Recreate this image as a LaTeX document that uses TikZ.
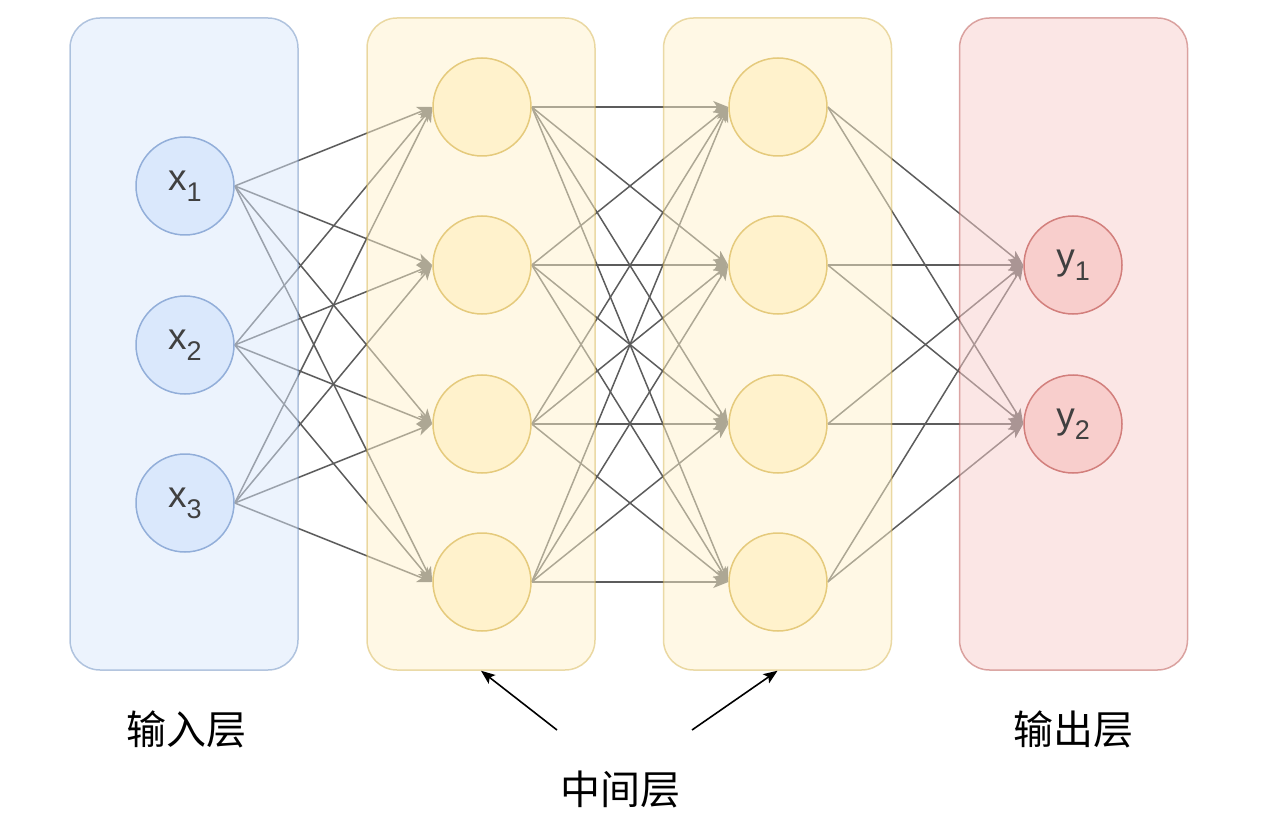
\documentclass[tikz,border=0pt]{standalone}
\usepackage{fontspec}
\setmainfont{Liberation Sans}
\newfontfamily\cjk{Noto Sans CJK SC}
\usetikzlibrary{arrows.meta}
\pgfdeclarelayer{edgelayer}
\pgfdeclarelayer{boxlayer}
\pgfsetlayers{edgelayer,boxlayer,main}
\definecolor{bluefill}{HTML}{DAE8FC}
\definecolor{bluedraw}{HTML}{6C8EBF}
\definecolor{yelfill}{HTML}{FFF2CC}
\definecolor{yeldraw}{HTML}{D6B656}
\definecolor{redfill}{HTML}{F8CECC}
\definecolor{reddraw}{HTML}{B85450}
\definecolor{circblue}{HTML}{92AED9}
\definecolor{circyel}{HTML}{E5CA7C}
\definecolor{circred}{HTML}{D27F7C}
\definecolor{edgegray}{HTML}{5C5C5C}
\definecolor{labgray}{HTML}{404040}
\newcommand{\nlab}[2]{{\fontsize{37}{37}\selectfont #1}\raisebox{-11pt}{\fontsize{27}{27}\selectfont #2}}
\begin{document}
\begin{tikzpicture}[x=1pt,y=-1pt,
  neuron/.style={circle,minimum size=98pt,inner sep=0pt,line width=1.5pt,text=labgray},
  inp/.style={neuron,fill=bluefill,draw=circblue},
  hid/.style={neuron,fill=yelfill,draw=circyel},
  outn/.style={neuron,fill=redfill,draw=circred},
  layerbox/.style={rectangle,rounded corners=30pt,minimum width=228pt,minimum height=652pt,inner sep=0pt,line width=1.5pt,opacity=0.5},
  edge/.style={draw=edgegray,line width=1.5pt,-{Stealth[length=15pt,width=12pt,inset=4pt]}},
  callout/.style={draw=black,line width=1.6pt,-{Stealth[length=14pt,width=11pt,inset=3pt]}},
  cjklab/.style={font=\cjk\fontsize{40}{48}\selectfont,text=black,inner sep=0pt}
]
\useasboundingbox (0,0) rectangle (1269,826);
% neurons
\node[inp] (x1) at (185,186) {\nlab{x}{1}};
\node[inp] (x2) at (185,345) {\nlab{x}{2}};
\node[inp] (x3) at (185,503) {\nlab{x}{3}};
\node[hid] (a1) at (482,107) {};
\node[hid] (a2) at (482,265) {};
\node[hid] (a3) at (482,424) {};
\node[hid] (a4) at (482,582) {};
\node[hid] (b1) at (778,107) {};
\node[hid] (b2) at (778,265) {};
\node[hid] (b3) at (778,424) {};
\node[hid] (b4) at (778,582) {};
\node[outn] (y1) at (1073,265) {\nlab{y}{1}};
\node[outn] (y2) at (1073,424) {\nlab{y}{2}};
% layer boxes
\begin{pgfonlayer}{boxlayer}
\node[layerbox,fill=bluefill,draw=bluedraw] (inbox) at (184,344) {};
\node[layerbox,fill=yelfill,draw=yeldraw] (h1box) at (481,344) {};
\node[layerbox,fill=yelfill,draw=yeldraw] (h2box) at (777.5,344) {};
\node[layerbox,fill=redfill,draw=reddraw] (outbox) at (1073.5,344) {};
\end{pgfonlayer}
% connections
\begin{pgfonlayer}{edgelayer}
\foreach \s in {x1,x2,x3}{\foreach \t in {a1,a2,a3,a4}{\draw[edge] (\s.east) -- (\t.west);}}
\foreach \s in {a1,a2,a3,a4}{\foreach \t in {b1,b2,b3,b4}{\draw[edge] (\s.east) -- (\t.west);}}
\foreach \s in {b1,b2,b3,b4}{\foreach \t in {y1,y2}{\draw[edge] (\s.east) -- (\t.west);}}
\end{pgfonlayer}
% labels
\node[cjklab] (lin) at (186,729) {输入层};
\node[cjklab] (lmid) at (620,789) {中间层};
\node[cjklab] (lout) at (1073,729) {输出层};
\coordinate (m1) at (557,730);
\coordinate (m2) at (692,730);
\draw[callout] (m1) -- (h1box.south);
\draw[callout] (m2) -- (h2box.south);
\end{tikzpicture}
\end{document}
